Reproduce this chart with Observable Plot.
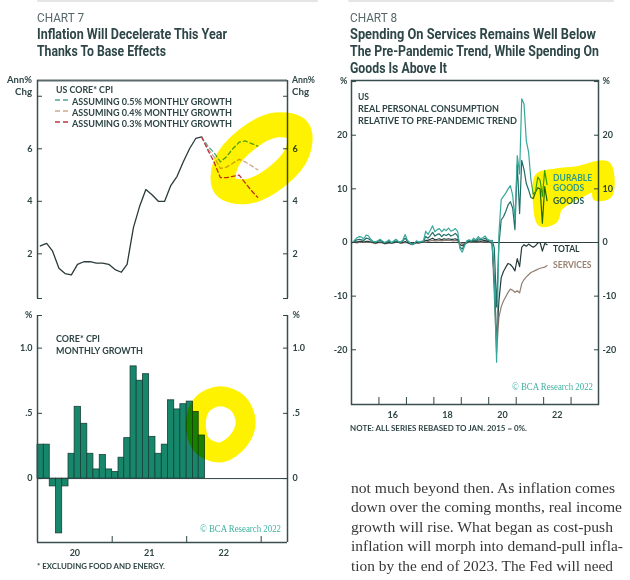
<!DOCTYPE html>
<html><head><meta charset="utf-8">
<script src="https://cdn.jsdelivr.net/npm/d3@7"></script>
<script src="https://cdn.jsdelivr.net/npm/@observablehq/plot@0.6"></script>
<style>
html,body{margin:0;padding:0;background:#fff;}
#page{position:relative;width:630px;height:580px;overflow:hidden;background:#fff;}
.t{position:absolute;white-space:nowrap;transform-origin:0 50%;}
</style></head><body><div id="page"></div>
<script>
// ---------------- DATA: Chart 7 ----------------
const cpiMonths = ["2020-01","2020-02","2020-03","2020-04","2020-05","2020-06","2020-07","2020-08","2020-09","2020-10","2020-11","2020-12",
  "2021-01","2021-02","2021-03","2021-04","2021-05","2021-06","2021-07","2021-08","2021-09","2021-10","2021-11","2021-12",
  "2022-01","2022-02","2022-03"];
const coreYoY = [2.3,2.4,2.1,1.45,1.25,1.2,1.6,1.7,1.7,1.65,1.65,1.6,1.4,1.3,1.6,3.0,3.8,4.45,4.25,4.0,4.0,4.6,4.95,5.5,6.0,6.4,6.45];
const coreMoM = [0.26,0.26,-0.06,-0.42,-0.06,0.19,0.55,0.42,0.19,0.07,0.18,0.07,0.05,0.16,0.31,0.86,0.75,0.8,0.32,0.19,0.26,0.6,0.53,0.57,0.59,0.51,0.33];
const fcMonths = ["2022-03","2022-04","2022-05","2022-06","2022-07","2022-08","2022-09","2022-10","2022-11","2022-12"];
const fc05 = [6.45,6.1,5.85,5.5,5.7,6.0,6.25,6.3,6.2,6.1];
const fc04 = [6.45,6.0,5.7,5.25,5.3,5.45,5.6,5.5,5.35,5.2];
const fc03 = [6.45,5.95,5.5,4.9,4.9,4.95,5.0,4.7,4.4,4.15];
const fcLabels = ["ASSUMING 0.5% MONTHLY GROWTH","ASSUMING 0.4% MONTHLY GROWTH","ASSUMING 0.3% MONTHLY GROWTH"];
const fcColors = ["#4ea892","#cfa98f","#c2343f"];
const yearLabels7 = ["2020","2021","2022"];
// highlighter marks (months after Jan 2020, value)
const hlTop = [[41.97,6.72],[41.95,5.89],[38.52,4.92],[33.69,4.37],[30.29,4.56],[30.31,5.39],[33.74,6.36],[38.56,6.91]];
const hlBottom = [[33.55,0.431],[32.37,0.292],[29.52,0.2],[26.45,0.262],[25.48,0.431],[26.66,0.572],[29.52,0.631],[32.37,0.572]];

// ---------------- DATA: Chart 8 ----------------
const pceStart = "2015-01", pceEnd = "2022-02";
const durable = [0.0,0.5,0.9,1.1,1.0,0.7,1.4,1.2,0.6,0.2,0.1,0.3,
  0.6,0.3,0.0,0.2,0.5,0.0,0.3,0.6,0.2,0.1,0.5,1.5,
  0.4,0.0,-0.4,-0.2,0.3,0.1,0.2,0.3,2.1,1.5,2.3,3.1,
  2.0,2.4,2.6,2.0,2.5,2.2,2.7,2.1,2.3,2.6,2.0,-1.2,
  -1.8,-0.6,0.3,0.5,0.3,0.8,0.5,1.1,0.7,0.9,1.2,0.6,
  0.4,0.3,-7.5,-22.3,1.5,8.0,8.6,9.2,10.0,10.6,8.8,4.2,
  16.2,12.8,26.8,25.8,19.0,16.8,11.8,9.0,9.5,12.2,11.6,8.6,
  13.4,10.8];
const goods = [0.0,0.3,0.5,0.6,0.5,0.4,0.8,0.7,0.4,0.1,0.1,0.2,
  0.4,0.2,-0.1,0.1,0.3,-0.1,0.1,0.3,0.1,0.0,0.3,0.8,
  0.2,-0.1,-0.4,-0.2,0.2,0.0,0.1,0.2,1.1,0.8,1.3,1.9,
  1.2,1.5,1.6,1.1,1.5,1.3,1.6,1.2,1.4,1.7,1.2,-0.9,
  -1.2,-0.4,0.2,0.4,0.2,0.5,0.3,0.7,0.5,0.6,0.8,0.4,
  0.3,0.4,-1.0,-12.0,-0.5,4.2,4.8,5.8,7.0,7.6,6.4,2.4,
  14.6,5.4,15.3,13.6,11.0,9.8,8.4,8.2,9.4,10.2,10.0,3.6,
  10.4,7.8];
const total = [0.0,0.1,0.1,0.2,0.2,0.1,0.2,0.2,0.1,0.0,-0.1,0.0,
  0.1,0.0,-0.2,-0.1,0.0,-0.1,0.0,0.1,0.0,-0.1,0.0,0.2,
  0.0,-0.2,-0.3,-0.2,0.0,-0.1,0.0,0.1,0.4,0.4,0.6,0.8,
  0.5,0.6,0.7,0.5,0.7,0.6,0.7,0.6,0.6,0.7,0.5,-0.4,
  -0.6,-0.3,0.0,0.2,0.1,0.3,0.2,0.3,0.2,0.3,0.4,0.2,
  0.1,0.0,-7.0,-18.5,-11.0,-6.6,-5.4,-4.6,-3.9,-4.1,-4.6,-5.3,
  -3.0,-4.5,-0.9,-0.4,-0.7,-0.3,-0.6,-0.9,-0.6,-0.1,0.0,-1.6,
  -0.2,-0.4];
const services = [0.0,0.0,-0.1,0.0,0.1,0.0,0.0,0.1,0.0,-0.1,-0.2,-0.1,
  0.0,-0.1,-0.2,-0.2,-0.1,-0.1,-0.1,0.0,0.0,-0.1,-0.1,0.0,
  -0.1,-0.2,-0.3,-0.2,-0.1,-0.1,0.0,0.0,0.1,0.2,0.3,0.4,
  0.3,0.3,0.4,0.3,0.4,0.4,0.4,0.4,0.3,0.4,0.3,0.0,
  -0.3,-0.2,-0.1,0.0,0.0,0.1,0.1,0.1,0.0,0.1,0.2,0.1,
  0.0,-0.2,-9.5,-20.6,-14.0,-12.0,-10.9,-10.1,-9.3,-8.7,-8.9,-9.3,
  -9.0,-9.4,-7.7,-6.9,-6.4,-6.0,-5.6,-5.4,-5.2,-5.0,-4.8,-4.7,
  -4.6,-4.3];
const seriesNames = ["SERVICES","TOTAL","GOODS","DURABLE GOODS"];
const seriesColors = ["#8f7d72","#263c3c","#1f6d66","#38a79b"];
const seriesLabels = [ // name, text line, value at label, colour
  ["DURABLE GOODS","DURABLE",12.0,"#2f9c86"],["DURABLE GOODS","GOODS",10.1,"#2f9c86"],
  ["GOODS","GOODS",7.6,"#1e5b50"],["TOTAL","TOTAL",-1.3,"#263c3c"],["SERVICES","SERVICES",-4.3,"#9a8172"]];
const yearLabels8 = ["2016","2018","2020","2022"];
// highlighter (months after Jan 2015, value)
const hlRight = [[81.2,12.5],[89.1,13.4],[97.8,13.8],[112.2,14.7],[113.1,8.75],[106.6,8.2],[105.7,9.7],[102.2,9.1],[96.5,7.8],[91.3,6.3],[89.1,3.9],[82.5,3.4],[80.3,6.9]];

const bodyLines = ["not much beyond then. As inflation comes","down over the coming months, real income",
  "growth will rise. What began as cost-push","inflation will morph into demand-pull infla-","tion by the end of 2023. The Fed will need"];

// ---------------- helpers ----------------
const page = document.getElementById("page");
const INK = "#2f4545", AXIS = "#3a4d4f", YEL = "#fff200";
const parseM = s => { const [y,m] = s.split("-").map(Number); return new Date(Date.UTC(y, m-1, 1)); };
const midM = s => { const d = parseM(s); return new Date(Date.UTC(d.getUTCFullYear(), d.getUTCMonth(), 15)); };
const offM = (y0, m) => { const k = Math.floor(m); return new Date(Date.UTC(y0, k, 1 + (m-k)*30)); };
function addText(txt, x, yc, size, o = {}) {
  const d = document.createElement("div");
  d.className = "t"; d.textContent = txt;
  Object.assign(d.style, {left: x+"px", top: (yc - size*(o.k ?? 0.5))+"px", fontSize: size+"px", lineHeight: size+"px",
    fontWeight: o.weight ?? 700, fontFamily: o.family ?? "Lato, sans-serif", color: o.color ?? INK});
  page.appendChild(d);
  if (o.w) { const r = d.getBoundingClientRect().width; d.style.transform = `scaleX(${o.w / r})`; }
  return d;
}
function place(svg, x, y) { svg.style.position = "absolute"; svg.style.left = x+"px"; svg.style.top = y+"px"; page.appendChild(svg); }
const baseStyle = {fontFamily: "Lato, sans-serif", fontSize: "9px", fontWeight: "700", color: INK, background: "transparent", overflow: "visible"};

// top gray rules
for (const [x, w] of [[37, 281], [348, 266]]) {
  const d = document.createElement("div");
  Object.assign(d.style, {position: "absolute", left: x+"px", top: "0px", width: w+"px", height: "2px", background: "#e4e6e6", borderRadius: "2px"});
  page.appendChild(d);
}

// ---------------- titles ----------------
addText("CHART 7", 37, 18, 12.5, {weight: 400, family: "Roboto, sans-serif", color: "#56676a", w: 47});
addText("Inflation Will Decelerate This Year", 37, 34, 14, {family: "Roboto, sans-serif", color: "#2e4648", w: 190});
addText("Thanks To Base Effects", 37, 51, 14, {family: "Roboto, sans-serif", color: "#2e4648", w: 129});
addText("CHART 8", 350, 18, 12.5, {weight: 400, family: "Roboto, sans-serif", color: "#56676a", w: 47});
addText("Spending On Services Remains Well Below", 350, 34, 14, {family: "Roboto, sans-serif", color: "#2e4648", w: 246});
addText("The Pre-Pandemic Trend, While Spending On", 350, 51, 14, {family: "Roboto, sans-serif", color: "#2e4648", w: 249});
addText("Goods Is Above It", 350, 68, 14, {family: "Roboto, sans-serif", color: "#2e4648", w: 97});

// ---------------- Chart 7 top ----------------
const xL = [new Date(Date.UTC(2020,0,1)), new Date(Date.UTC(2023,4,10))];
const coreData = cpiMonths.map((m, i) => ({date: midM(m), v: coreYoY[i]}));
const fcData = [fc05, fc04, fc03].map(arr => fcMonths.map((m, i) => ({date: midM(m), v: arr[i]})));
const hlTopData = hlTop.map(([m, v]) => ({date: offM(2020, m), v}));
const tickFmt7 = d => [2,4,6].includes(d) ? String(d) : "";
const topPlot = Plot.plot({
  width: 320, height: 240, marginLeft: 37, marginRight: 33, marginTop: 10, marginBottom: 12,
  x: {type: "utc", domain: xL, axis: null},
  y: {domain: [0.3, 8.6], axis: null},
  style: baseStyle,
  marks: [
    Plot.ruleY([8.6], {stroke: "#5b6b6d", strokeWidth: 2}),
    Plot.ruleX(xL, {stroke: AXIS, strokeWidth: 1.5}),
    Plot.axisY({anchor: "left", label: null, ticks: [0.3,2,4,6,8], tickSize: -5, tickPadding: 10, tickFormat: tickFmt7}),
    Plot.axisY({anchor: "right", label: null, ticks: [0.3,2,4,6,8], tickSize: -5, tickPadding: 10, tickFormat: tickFmt7}),
    Plot.line(coreData, {x: "date", y: "v", stroke: "#2b3a3a", strokeWidth: 1.3}),
    ...fcData.map((d, i) => Plot.line(d, {x: "date", y: "v", stroke: fcColors[i], strokeWidth: 1.3, strokeDasharray: "4,3"})),
    Plot.line(hlTopData, {x: "date", y: "v", stroke: YEL, strokeWidth: 25, curve: "catmull-rom-closed", mixBlendMode: "multiply"})
  ]
});
place(topPlot, 0, 70);
addText("Ann%", 7, 80, 8.5, {w: 25}); addText("Chg", 15, 92, 8.5, {w: 17});
addText("Ann%", 292, 80, 8.5, {w: 23}); addText("Chg", 292, 92, 8.5, {w: 17});
addText("US CORE* CPI", 56, 89, 9, {w: 57});
fcLabels.forEach((t, i) => {
  const y = 101 + i*11;
  addText(t, 72, y, 9, {w: 160});
  const s = document.createElementNS("http://www.w3.org/2000/svg", "svg");
  s.setAttribute("width", 16); s.setAttribute("height", 4);
  s.innerHTML = `<line x1="0" y1="2" x2="16" y2="2" stroke="${fcColors[i]}" stroke-width="1.4" stroke-dasharray="5,3"/>`;
  Object.assign(s.style, {position: "absolute", left: "55px", top: (y-3)+"px"});
  page.appendChild(s);
});

// ---------------- Chart 7 bottom ----------------
const barData = cpiMonths.map((m, i) => { const d = parseM(m); return {x1: d, x2: new Date(Date.UTC(d.getUTCFullYear(), d.getUTCMonth()+1, 1)), v: coreMoM[i]}; });
const hlBotData = hlBottom.map(([m, v]) => ({date: offM(2020, m), v}));
const yearStarts7 = [2021, 2022, 2023].map(y => new Date(Date.UTC(y, 0, 1)));
const yearMids7 = yearLabels7.map(y => new Date(Date.UTC(+y, 6, 2)));
const tickFmtB = d => d === 1.25 ? "%" : d === 1 ? "1.0" : d === 0.5 ? ".5" : "0";
const botPlot = Plot.plot({
  width: 320, height: 255, marginLeft: 37, marginRight: 33, marginTop: 10, marginBottom: 18,
  x: {type: "utc", domain: xL},
  y: {domain: [-0.49, 1.25], axis: null},
  style: baseStyle,
  marks: [
    Plot.rectY(barData, {x1: "x1", x2: "x2", y: "v", fill: "#17876b", stroke: "#173f37", strokeWidth: 0.8}),
    Plot.ruleY([0], {stroke: INK, strokeWidth: 1}),
    Plot.ruleX(xL, {stroke: AXIS, strokeWidth: 1.5}),
    Plot.ruleY([-0.49], {stroke: AXIS, strokeWidth: 1.5}),
    Plot.axisY({anchor: "left", label: null, ticks: [0, 0.5, 1, 1.25], tickSize: -5, tickPadding: 10, tickFormat: tickFmtB}),
    Plot.axisY({anchor: "right", label: null, ticks: [0, 0.5, 1, 1.25], tickSize: -5, tickPadding: 10, tickFormat: tickFmtB}),
    Plot.axisX({ticks: yearStarts7, tickSize: -6, tickFormat: () => "", label: null}),
    Plot.axisX({ticks: yearMids7, tickSize: 0, tickPadding: 7, tickFormat: d => String(d.getUTCFullYear() % 100), label: null}),
    Plot.line(hlBotData, {x: "date", y: "v", stroke: YEL, strokeWidth: 20, curve: "catmull-rom-closed", mixBlendMode: "multiply"})
  ]
});
place(botPlot, 0, 305);
addText("CORE* CPI", 56, 338, 9, {w: 44});
addText("MONTHLY GROWTH", 56, 350, 9, {w: 87});
addText("© BCA Research 2022", 200, 529, 10.5, {weight: 400, family: "'Liberation Serif', serif", color: "#3fb0a0", w: 81});
addText("* EXCLUDING FOOD AND ENERGY.", 37, 566, 8, {w: 128});

// ---------------- Chart 8 ----------------
const pceMonths = d3.utcMonth.range(parseM(pceStart), d3.utcMonth.offset(parseM(pceEnd), 1));
const pceSeries = [services, total, goods, durable];
const pceData = pceSeries.flatMap((arr, k) => pceMonths.map((d, i) => ({date: new Date(d.getTime() + 14*864e5), v: arr[i], s: seriesNames[k]})));
const hlRightData = hlRight.map(([m, v]) => ({date: offM(2015, m), v}));
const labelDate = offM(2015, 88.2);
const labData = seriesLabels.map(([s, t, v, c]) => ({date: labelDate, v, t, c}));
const xR = [new Date(Date.UTC(2015,0,1)), new Date(Date.UTC(2024,0,1))];
const yearStarts8 = d3.range(2016, 2024).map(y => new Date(Date.UTC(y, 0, 1)));
const yearMids8 = yearLabels8.map(y => new Date(Date.UTC(+y, 6, 2)));
const tickFmt8 = d => d === 30 ? "%" : String(d);
const rightPlot = Plot.plot({
  width: 310, height: 350, marginLeft: 31, marginRight: 32, marginTop: 10, marginBottom: 16,
  x: {type: "utc", domain: xR},
  y: {domain: [-30.2, 30.2], axis: null},
  style: baseStyle,
  marks: [
    Plot.frame({stroke: AXIS, strokeWidth: 1.5}),
    Plot.ruleY([0], {stroke: "#2f3f3f", strokeWidth: 1}),
    ...seriesNames.map((s, k) => Plot.line(pceData.filter(d => d.s === s), {x: "date", y: "v", stroke: seriesColors[k], strokeWidth: 1.2})),
    Plot.line(hlRightData, {x: "date", y: "v", fill: YEL, stroke: YEL, strokeWidth: 4, strokeLinejoin: "round", curve: "catmull-rom-closed", mixBlendMode: "multiply"}),
    Plot.text(labData, {x: "date", y: "v", text: "t", fill: "c", textAnchor: "start", fontSize: 8.5, fontWeight: 700}),
    Plot.axisY({anchor: "left", label: null, ticks: [-20,-10,0,10,20,30], tickSize: -5, tickPadding: 9, tickFormat: tickFmt8}),
    Plot.axisY({anchor: "right", label: null, ticks: [-20,-10,0,10,20,30], tickSize: -5, tickPadding: 9, tickFormat: tickFmt8}),
    Plot.axisX({ticks: yearStarts8, tickSize: -7, tickFormat: () => "", label: null}),
    Plot.axisX({ticks: yearMids8, tickSize: 0, tickPadding: 7, tickFormat: d => String(d.getUTCFullYear() % 100), label: null})
  ]
});
place(rightPlot, 320, 70);
addText("US", 358, 96, 9, {w: 11});
addText("REAL PERSONAL CONSUMPTION", 358, 108, 9, {w: 141});
addText("RELATIVE TO PRE-PANDEMIC TREND", 358, 120, 9, {w: 159});
addText("© BCA Research 2022", 512, 387, 10.5, {weight: 400, family: "'Liberation Serif', serif", color: "#3fb0a0", w: 81});
addText("NOTE: ALL SERIES REBASED TO JAN. 2015 = 0%.", 350, 428, 8, {w: 177});

// ---------------- body text ----------------
const bodyW = [264, 271, 262, 272, 262];
const bodyY = [489.5, 509, 528.5, 548, 567.3];
bodyLines.forEach((t, i) => addText(t, 351, bodyY[i], 15.5, {weight: 400, family: "'Liberation Serif', serif", color: "#383838", w: bodyW[i], k: 0.615}));
</script></body></html>
